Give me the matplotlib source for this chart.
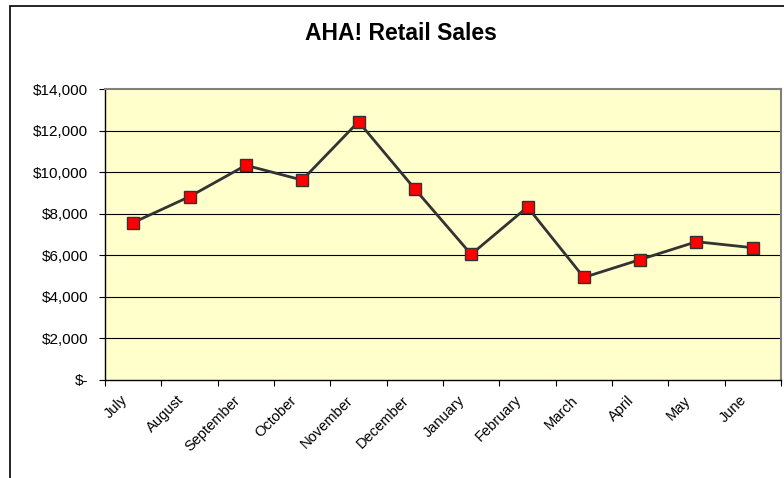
import matplotlib.pyplot as plt
import matplotlib.ticker as mticker
import matplotlib.transforms as mtransforms
from matplotlib.patches import Rectangle
import numpy as np

plt.rcParams['font.family'] = ['Liberation Sans', 'DejaVu Sans']

months = ['July', 'August', 'September', 'October', 'November', 'December',
          'January', 'February', 'March', 'April', 'May', 'June']
sales = [7580, 8830, 10340, 9630, 12440, 9200, 6050, 8330, 4940, 5800, 6660, 6370]
y_ticks = [0, 2000, 4000, 6000, 8000, 10000, 12000, 14000]


def money(v, pos):
    if v == 0:
        return '$-'
    return '${:,.0f}'.format(v)


fig = plt.figure(figsize=(7.84, 4.78), dpi=100)
ax = fig.add_axes([105 / 784, 98 / 478, 676 / 784, 290.7 / 478])
ax.set_facecolor('#FFFFCC')

x = np.arange(len(months))
ax.plot(x, sales, color='#333333', lw=2.0, marker='s', markersize=8,
        markerfacecolor='#FF0000', markeredgecolor='#333333',
        markeredgewidth=1.0, zorder=3)

ax.set_xlim(-0.5, len(months) - 0.5)
ax.set_ylim(0, 14000)
ax.set_yticks(y_ticks)
ax.yaxis.set_major_formatter(mticker.FuncFormatter(money))
for t in y_ticks[1:-1]:
    ax.axhline(t, color='#000000', lw=0.8, zorder=1)

# ticks between categories, month names placed under each category
ax.set_xticks(np.arange(-0.5, len(months), 1.0))
ax.set_xticklabels([])
ax.tick_params(axis='x', which='major', length=4, width=0.8, direction='out')
ax.tick_params(axis='y', length=4, width=0.8, direction='out', labelsize=11, pad=8)

shift = mtransforms.ScaledTranslation(-13 / 100, -13 / 100, fig.dpi_scale_trans)
lab_tr = ax.get_xaxis_transform() + shift
for i, m in enumerate(months):
    ax.text(i, 0, m, transform=lab_tr, rotation=45, ha='right', va='top',
            rotation_mode='anchor', fontsize=10.5, clip_on=False)

for s in ['left', 'bottom']:
    ax.spines[s].set_color('#000000')
    ax.spines[s].set_linewidth(1.0)
for s in ['top', 'right']:
    ax.spines[s].set_color('#808080')
    ax.spines[s].set_linewidth(1.5)

fig.text(400.5 / 784, 1 - 34 / 478, 'AHA! Retail Sales', ha='center', va='center',
         fontsize=16.5, fontweight='bold')

fig.patches.append(Rectangle((9.5 / 784, -0.1), 1.2, 1.1 - 5.5 / 478,
                             transform=fig.transFigure, fill=False,
                             edgecolor='#000000', lw=1.2))

fig.savefig('out.png', dpi=100)
